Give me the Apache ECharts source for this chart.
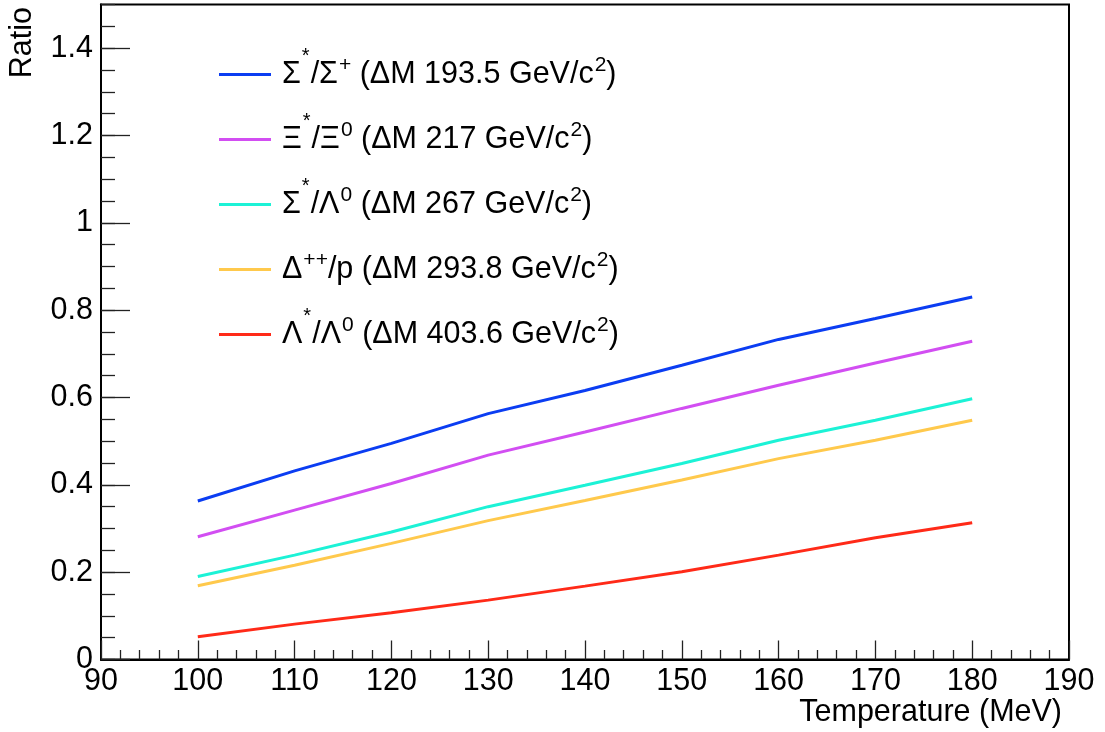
<!DOCTYPE html>
<html>
<head>
<meta charset="utf-8">
<script src="https://cdn.jsdelivr.net/npm/echarts@6/dist/echarts.min.js"></script>
<style>
html,body{margin:0;padding:0;background:#fff;}
#chart{width:1105px;height:732px;}
</style>
</head>
<body>
<div id="chart"></div>
<script>
// ---- data ----
const temperatures = [100, 110, 120, 130, 140, 150, 160, 170, 180];
const sigmaStarSigmaPlus = [0.363, 0.432, 0.495, 0.563, 0.616, 0.674, 0.733, 0.781, 0.830];
const xiStarXi0          = [0.281, 0.342, 0.403, 0.468, 0.521, 0.575, 0.628, 0.679, 0.729];
const sigmaStarLambda0   = [0.190, 0.239, 0.292, 0.350, 0.399, 0.449, 0.502, 0.548, 0.597];
const deltaPPp           = [0.169, 0.216, 0.266, 0.318, 0.364, 0.411, 0.460, 0.502, 0.548];
const lambdaStarLambda0  = [0.052, 0.081, 0.107, 0.136, 0.168, 0.201, 0.239, 0.279, 0.313];

const seriesNames = [
  'Σ*/Σ+ (ΔM 193.5 GeV/c2)',
  'Ξ*/Ξ0 (ΔM 217 GeV/c2)',
  'Σ*/Λ0 (ΔM 267 GeV/c2)',
  'Δ++/p (ΔM 293.8 GeV/c2)',
  'Λ*/Λ0 (ΔM 403.6 GeV/c2)'
];
const legendRich = [
  'Σ{st|*}/Σ{sp|+} (ΔM 193.5 GeV/c{sp|2})',
  'Ξ{st|*}/Ξ{sp|0} (ΔM 217 GeV/c{sp|2})',
  'Σ{st|*}/Λ{sp|0} (ΔM 267 GeV/c{sp|2})',
  'Δ{sp|++}/p (ΔM 293.8 GeV/c{sp|2})',
  'Λ{st|*}/Λ{sp|0} (ΔM 403.6 GeV/c{sp|2})'
];
const seriesValues = [sigmaStarSigmaPlus, xiStarXi0, sigmaStarLambda0, deltaPPp, lambdaStarLambda0];
const seriesColors = ['#0b3df2', '#d24ef2', '#1cf2d6', '#ffc94c', '#ff2a18'];

const FONT = '"Liberation Sans", Arial, Helvetica, sans-serif';
const FS = 30.5;

const chart = echarts.init(document.getElementById('chart'), null, {renderer: 'canvas'});

const series = seriesValues.map((vals, i) => ({
  name: seriesNames[i],
  type: 'line',
  xAxisIndex: 0,
  yAxisIndex: 0,
  data: temperatures.map((t, j) => [t, vals[j]]),
  showSymbol: false,
  symbol: 'none',
  color: seriesColors[i],
  lineStyle: {color: seriesColors[i], width: 3},
  animation: false,
  z: 3
}));

const option = {
  animation: false,
  backgroundColor: '#fff',
  grid: {
    left: 101, right: 36, top: 4.5, bottom: 72.5,
    show: true, borderColor: '#000', borderWidth: 2, backgroundColor: 'transparent'
  },
  legend: {
    orient: 'vertical',
    left: 219,
    top: 46.5,
    padding: 0,
    itemWidth: 52,
    itemHeight: 3,
    itemGap: 9,
    icon: 'rect',
    selectedMode: false,
    data: seriesNames,
    formatter: function (name) { return legendRich[seriesNames.indexOf(name)]; },
    textStyle: {
      fontFamily: FONT,
      fontSize: FS,
      color: '#000',
      lineHeight: 56,
      padding: [0, 0, 0, 6],
      rich: {
        sp: {fontFamily: FONT, fontSize: 21, color: '#000', lineHeight: 14, verticalAlign: 'top', padding: [8.5, 0, 0, 1]},
        st: {fontFamily: FONT, fontSize: 20, color: '#000', lineHeight: 9, verticalAlign: 'top', padding: [0, 1, 0, 1]}
      }
    }
  },
  xAxis: [{
    type: 'value',
    min: 90, max: 190, interval: 10,
    name: 'Temperature (MeV)',
    nameLocation: 'end',
    nameGap: -7,
    nameTextStyle: {fontFamily: FONT, fontSize: FS, color: '#000', align: 'right', verticalAlign: 'top', padding: [38, 0, 0, 0]},
    axisLine: {show: true, onZero: false, lineStyle: {color: '#000', width: 2}},
    axisTick: {show: true, inside: true, length: 19, lineStyle: {color: '#222', width: 1.3}},
    minorTick: {show: true, splitNumber: 5, length: 9.5, lineStyle: {color: '#222', width: 1.3}},
    axisLabel: {fontFamily: FONT, fontSize: FS, color: '#000', margin: 7},
    splitLine: {show: false},
    minorSplitLine: {show: false}
  }],
  yAxis: [{
    type: 'value',
    position: 'left',
    min: 0, max: 1.5, interval: 0.2,
    name: 'Ratio',
    nameLocation: 'end',
    nameRotate: 90,
    nameGap: -2.5,
    nameTextStyle: {fontFamily: FONT, fontSize: FS, color: '#000', align: 'right', verticalAlign: 'bottom', padding: [0, 0, 63, 0]},
    axisLine: {show: true, onZero: false, lineStyle: {color: '#000', width: 2}},
    axisTick: {show: true, inside: true, length: 29, lineStyle: {color: '#222', width: 1.3}},
    axisLabel: {fontFamily: FONT, fontSize: FS, color: '#000', margin: 8, showMaxLabel: false},
    splitLine: {show: false}
  }, {
    type: 'value',
    position: 'left',
    min: 0, max: 1.5, interval: 0.05,
    axisLine: {show: false},
    axisTick: {show: true, inside: true, length: 14, lineStyle: {color: '#222', width: 1.3}},
    axisLabel: {show: false},
    splitLine: {show: false}
  }],
  series: series
};
chart.setOption(option);
</script>
</body>
</html>
